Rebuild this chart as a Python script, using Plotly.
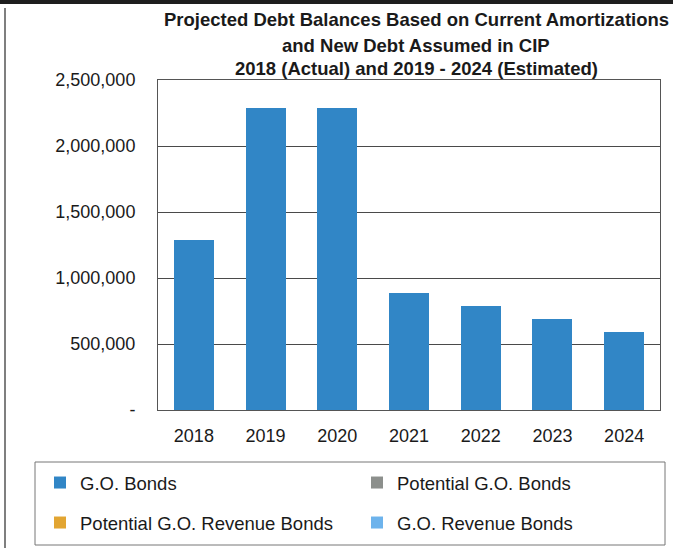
import plotly.graph_objects as go

years = ["2018", "2019", "2020", "2021", "2022", "2023", "2024"]
go_bonds = [1290000, 2290000, 2290000, 890000, 790000, 690000, 590000]
potential_go_bonds = [0, 0, 0, 0, 0, 0, 0]
potential_go_revenue_bonds = [0, 0, 0, 0, 0, 0, 0]
go_revenue_bonds = [0, 0, 0, 0, 0, 0, 0]
y_tickvals = [0, 500000, 1000000, 1500000, 2000000, 2500000]
y_ticktext = ["-", "500,000", "1,000,000", "1,500,000", "2,000,000", "2,500,000"]
title_lines = [
    "Projected Debt Balances Based on Current Amortizations",
    "and New Debt Assumed in CIP",
    "2018 (Actual) and 2019 - 2024 (Estimated)",
]

W, H = 673, 548
L, R, T, B = 158, 660, 80, 410
FONT = "Liberation Sans, Arial, sans-serif"


def px_x(p):
    return (p - L) / (R - L)


def px_y(p):
    return (B - p) / (B - T)


fig = go.Figure()
fig.add_trace(go.Bar(x=years, y=go_bonds, name="G.O. Bonds",
                     marker=dict(color="#3186C6", line=dict(width=0)), legend="legend"))
fig.add_trace(go.Bar(x=years, y=potential_go_bonds, name="Potential G.O. Bonds",
                     marker=dict(color="#8C8F8C", line=dict(width=0)), legend="legend"))
fig.add_trace(go.Bar(x=years, y=potential_go_revenue_bonds, name="Potential G.O. Revenue Bonds",
                     marker=dict(color="#E2A532", line=dict(width=0)), legend="legend2"))
fig.add_trace(go.Bar(x=years, y=go_revenue_bonds, name="G.O. Revenue Bonds",
                     marker=dict(color="#6DB3EC", line=dict(width=0)), legend="legend2"))

annotations = []
for line, py in zip(title_lines, [20, 45, 69]):
    annotations.append(dict(text="<b>" + line + "</b>", x=px_x(416), y=px_y(py),
                            xref="paper", yref="paper", xanchor="center", yanchor="middle",
                            showarrow=False, font=dict(family=FONT, size=18.5, color="#1a1a1a")))

shapes = [
    dict(type="line", xref="paper", yref="paper", x0=px_x(0), x1=px_x(W), y0=px_y(2), y1=px_y(2),
         line=dict(color="#1e1e1e", width=4)),
    dict(type="line", xref="paper", yref="paper", x0=px_x(5), x1=px_x(5), y0=px_y(8), y1=px_y(H),
         line=dict(color="#555", width=1.5)),
    dict(type="rect", xref="paper", yref="paper", x0=px_x(35), x1=px_x(665), y0=px_y(462), y1=px_y(545),
         line=dict(color="#777", width=1)),
]

legend_common = dict(orientation="h", xanchor="left", yanchor="middle",
                     xref="paper", yref="paper", traceorder="normal",
                     entrywidth=272, entrywidthmode="pixels",
                     font=dict(family=FONT, size=18.5, color="#1a1a1a"),
                     bgcolor="rgba(0,0,0,0)", borderwidth=0, itemclick=False, itemdoubleclick=False)

fig.update_layout(
    width=W, height=H,
    margin=dict(l=L, r=W - R, t=T, b=H - B, pad=0, autoexpand=False),
    paper_bgcolor="white", plot_bgcolor="white",
    barmode="stack", bargap=0.444,
    showlegend=True,
    legend=dict(x=px_x(40), y=px_y(483), **legend_common),
    legend2=dict(x=px_x(40), y=px_y(523), **legend_common),
    annotations=annotations,
    shapes=shapes,
    font=dict(family=FONT, size=18, color="#1a1a1a"),
)
fig.update_xaxes(type="category", showgrid=False, showline=True, mirror=True,
                 linecolor="#555", linewidth=1, ticks="", ticklabelstandoff=9,
                 tickfont=dict(family=FONT, size=18, color="#1a1a1a"))
fig.update_yaxes(range=[0, 2500000], tickvals=y_tickvals, ticktext=y_ticktext,
                 showgrid=True, gridcolor="#4a4a4a", gridwidth=1,
                 showline=True, mirror=True, linecolor="#555", linewidth=1,
                 zeroline=False, ticks="", ticklabelstandoff=18,
                 tickfont=dict(family=FONT, size=18, color="#1a1a1a"))

fig.write_html("out.html")
